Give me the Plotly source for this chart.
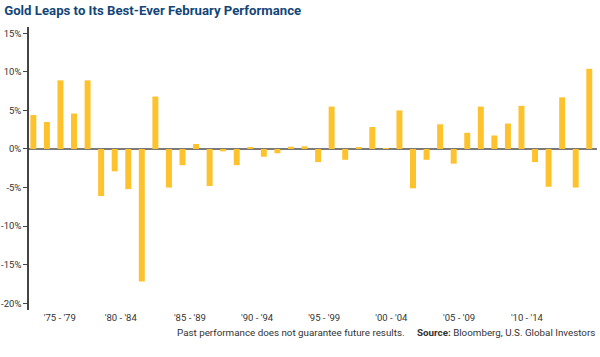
import plotly.graph_objects as go

years = list(range(1975, 2017))
feb_returns = [4.4, 3.5, 8.9, 4.6, 8.9, -6.1, -2.9, -5.2, -17.2, 6.8,
               -5.0, -2.1, 0.65, -4.8, -0.3, -2.1, 0.2, -1.0, -0.55, 0.3,
               0.35, -1.7, 5.5, -1.4, 0.15, 2.85, 0.1, 5.0, -5.1, -1.4,
               3.2, -1.9, 2.1, 5.5, 1.75, 3.3, 5.6, -1.7, -4.9, 6.7,
               -5.0, 10.4]
tick_positions = [1976.95, 1981.45, 1986.55, 1991.5, 1996.45, 2001.4, 2006.4, 2011.4]
tick_labels = ["'75 - '79", "'80 - '84", "'85 - '89", "'90 - '94", "'95 - '99",
               "'00 - '04", "'05 - '09", "'10 - '14"]
y_ticks = [15, 10, 5, 0, -5, -10, -15, -20]
y_labels = ["15%", "10%", "5%", "0%", "-5%", "-10%", "-15%", "-20%"]

FONT = "Roboto, sans-serif"

fig = go.Figure(go.Bar(x=years, y=feb_returns, marker_color="#FEC22D",
                       marker_line_width=0, width=0.44))

fig.update_layout(
    width=600, height=357,
    margin=dict(l=29, r=3, t=27, b=47),
    paper_bgcolor="white", plot_bgcolor="white",
    showlegend=False,
    font=dict(family=FONT, size=10, color="#333333"),
    title=dict(text="<b>Gold Leaps to Its Best-Ever February Performance</b>",
               x=0.007, xanchor="left", y=0.972, yanchor="middle",
               font=dict(family=FONT, size=13.2, color="#134677")),
)
fig.update_xaxes(range=[1974.68, 2016.57], tickmode="array",
                 tickvals=tick_positions, ticktext=tick_labels,
                 showgrid=False, zeroline=False, showline=False, ticks="",
                 automargin=False,
                 tickfont=dict(size=9.5, color="#333333"))
fig.update_yaxes(range=[-20.88, 15.82], tickmode="array",
                 tickvals=y_ticks, ticktext=y_labels,
                 showgrid=False, zeroline=True, zerolinecolor="#7a7a7a",
                 zerolinewidth=2, showline=True, linecolor="#444444",
                 linewidth=1.5, ticks="outside", ticklen=4, tickcolor="#444444",
                 automargin=False,
                 tickfont=dict(size=9.5, color="#333333"))

fig.add_annotation(text="Past performance does not guarantee future results.",
                   xref="paper", yref="paper", x=0.462, y=-0.081,
                   xanchor="center", yanchor="middle", showarrow=False,
                   font=dict(family=FONT, size=9.8, color="#333333"))
fig.add_annotation(text="<b>Source:</b> Bloomberg, U.S. Global Investors",
                   xref="paper", yref="paper", x=1.0, y=-0.081,
                   xanchor="right", yanchor="middle", showarrow=False,
                   font=dict(family=FONT, size=9.8, color="#333333"))

fig.write_html("out.html", config={"displayModeBar": False},
               post_script="document.body.style.margin='0';")
